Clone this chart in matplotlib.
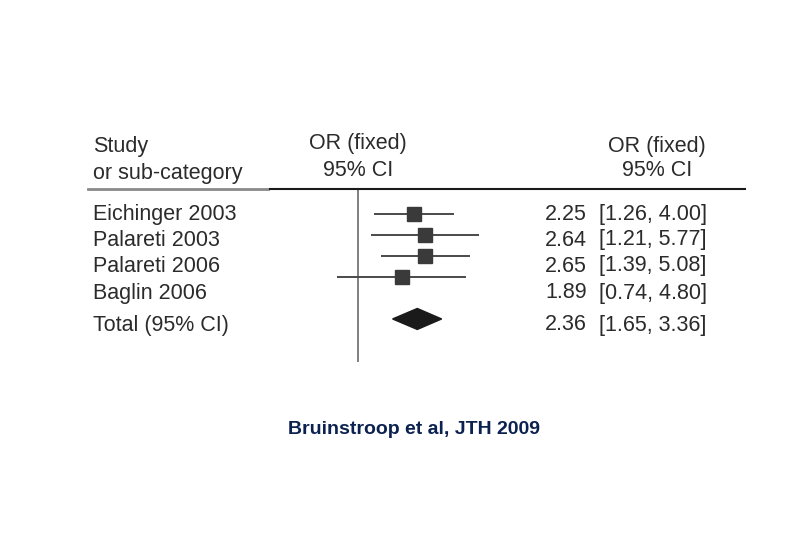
import numpy as np
import matplotlib.pyplot as plt
from matplotlib.lines import Line2D
from matplotlib.patches import Polygon

plt.rcParams['font.family'] = ['Liberation Sans', 'DejaVu Sans']

# data
studies = ['Eichinger 2003', 'Palareti 2003', 'Palareti 2006', 'Baglin 2006']
odds = [2.25, 2.64, 2.65, 1.89]
ci_low = [1.26, 1.21, 1.39, 0.74]
ci_high = [4.00, 5.77, 5.08, 4.80]
total_label = 'Total (95% CI)'
total_or = 2.36
total_low = 1.65
total_high = 3.36

W, H = 810, 540
fig = plt.figure(figsize=(W / 100, H / 100), dpi=100)
fig.patch.set_facecolor('white')


def fx(px):
    return px / W


def fy(py):
    return 1 - py / H


txt = '#2b2b2b'
fs = 15.5

# forest panel (log scale)
ax = fig.add_axes([fx(270), fy(362), fx(520) - fx(270), (362 - 190) / H])
ax.set_xscale('log')
ax.set_xlim(0.279, 10.46)
ax.set_ylim(7.05, -1.143)
ax.axis('off')

ax.axvline(1, color='#6a6a6a', lw=1.2, zorder=1)

rows = np.arange(len(studies))
ax.hlines(rows, ci_low, ci_high, color='#4a4a4a', lw=1.4, zorder=2)
ax.plot(odds, rows, 's', color='#3a3a3a', markersize=9.5, zorder=3)

total_row = len(studies) + 1
diamond = Polygon([(total_low, total_row), (total_or, total_row - 0.5),
                   (total_high, total_row), (total_or, total_row + 0.5)],
                  closed=True, color='#1a1a1a', zorder=3)
ax.add_patch(diamond)

# headers
fig.text(fx(93), fy(147), 'Study', fontsize=fs, color=txt, va='center')
fig.text(fx(93), fy(173), 'or sub-category', fontsize=fs, color=txt, va='center')
fig.text(fx(358), fy(144), 'OR (fixed)', fontsize=fs, color=txt, va='center', ha='center')
fig.text(fx(358), fy(170), '95% CI', fontsize=fs, color=txt, va='center', ha='center')
fig.text(fx(657), fy(147), 'OR (fixed)', fontsize=fs, color=txt, va='center', ha='center')
fig.text(fx(657), fy(171), '95% CI', fontsize=fs, color=txt, va='center', ha='center')

fig.add_artist(Line2D([fx(88), fx(268)], [fy(189), fy(189)], color='#8a8a8a', lw=2))
fig.add_artist(Line2D([fx(270), fx(745)], [fy(189), fy(189)], color='#1a1a1a', lw=1.5))

# study rows text
text_rows = [214, 240, 266, 293]
for name, o, lo, hi, ty in zip(studies, odds, ci_low, ci_high, text_rows):
    fig.text(fx(93), fy(ty), name, fontsize=fs, color=txt, va='center')
    fig.text(fx(587), fy(ty), f'{o:.2f}', fontsize=fs, color=txt, va='center', ha='right')
    fig.text(fx(599), fy(ty), f'[{lo:.2f}, {hi:.2f}]', fontsize=fs, color=txt, va='center')

fig.text(fx(93), fy(325), total_label, fontsize=fs, color=txt, va='center')
fig.text(fx(587), fy(325), f'{total_or:.2f}', fontsize=fs, color=txt, va='center', ha='right')
fig.text(fx(599), fy(325), f'[{total_low:.2f}, {total_high:.2f}]', fontsize=fs, color=txt, va='center')

# citation
fig.text(fx(414), fy(430), 'Bruinstroop et al, JTH 2009', fontsize=14, fontweight='bold',
         color='#0b2150', va='center', ha='center')

fig.savefig('out.png', dpi=100, facecolor='white')
